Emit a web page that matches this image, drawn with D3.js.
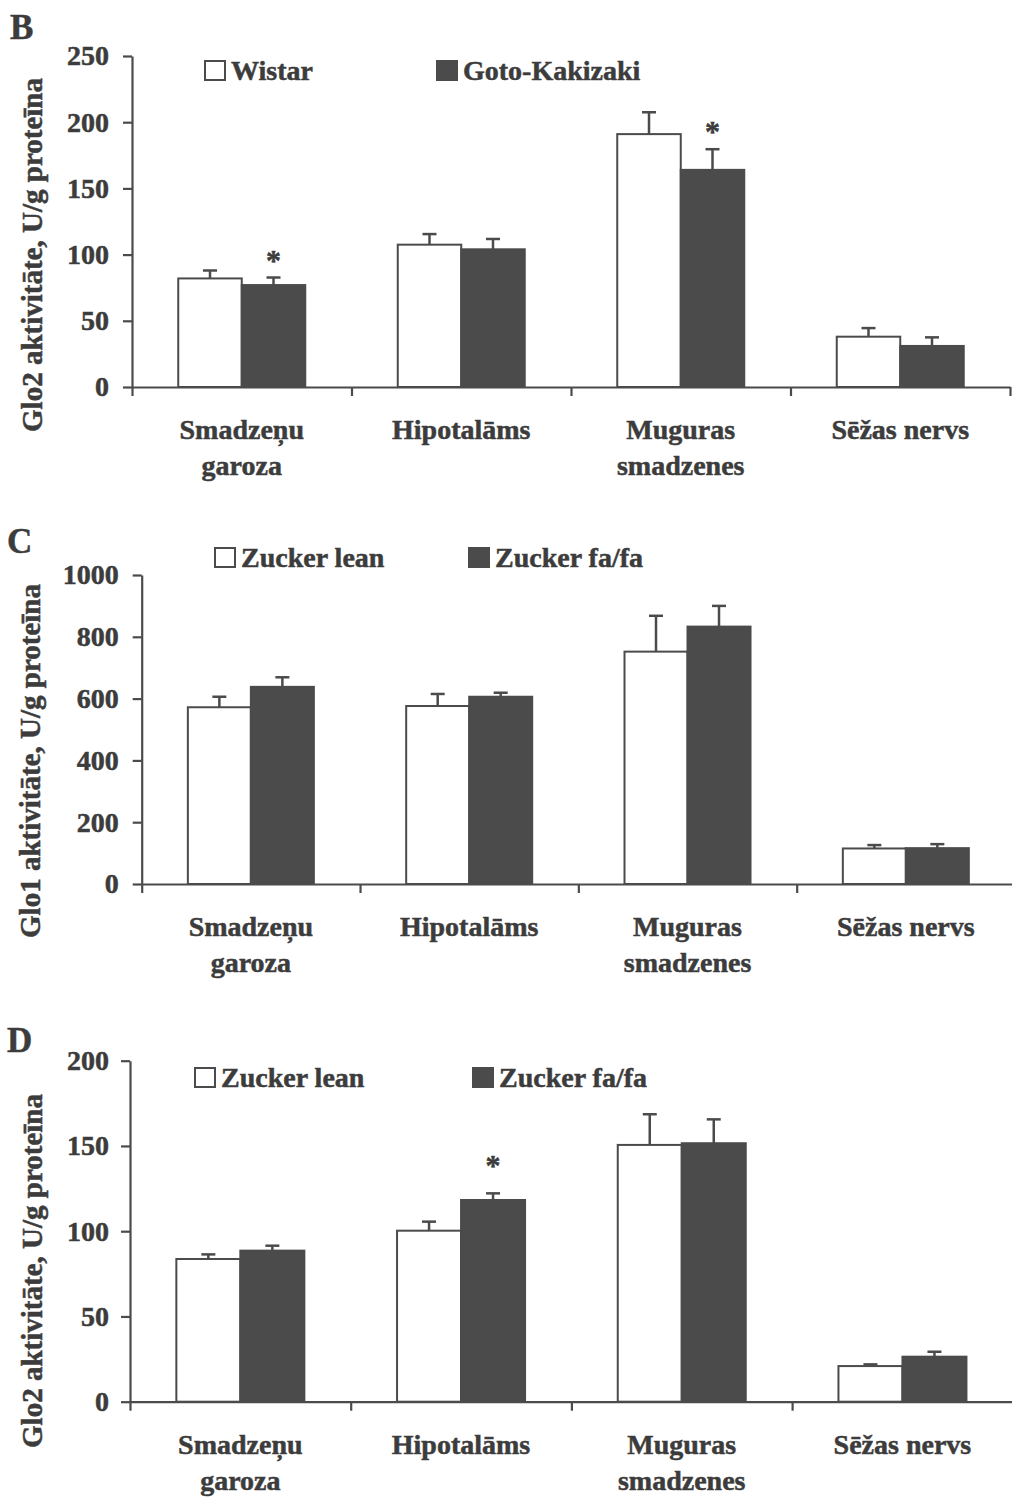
<!DOCTYPE html>
<html>
<head>
<meta charset="utf-8">
<script src="https://cdn.jsdelivr.net/npm/d3@7"></script>
<style>
body { margin: 0; background: #fff; }
svg text { font-family: "Liberation Serif", "Times New Roman", serif; font-weight: bold; fill: #3c3c3c; stroke: #3c3c3c; stroke-width: 0.5px; }
</style>
</head>
<body>
<svg id="drawing_region"></svg>
<script>
// categories (two-line labels)
const categories = [["Smadzeņu", "garoza"], ["Hipotalāms"], ["Muguras", "smadzenes"], ["Sēžas nervs"]];

// panel B - Glo2, Wistar vs Goto-Kakizaki
const wistar = [82, 107.5, 191, 38];
const wistarSem = [6, 8, 16.5, 6.5];
const gotoKakizaki = [77, 104, 164, 31];
const gotoKakizakiSem = [5.7, 7.8, 15.6, 6.5];
const gotoKakizakiStar = [true, false, true, false];
const ticksB = [0, 50, 100, 150, 200, 250];

// panel C - Glo1, Zucker lean vs fa/fa
const leanGlo1 = [572, 576, 752, 115];
const leanGlo1Sem = [34, 39, 116, 11];
const fafaGlo1 = [638, 606, 833, 116];
const fafaGlo1Sem = [31, 13, 67, 13];
const fafaGlo1Star = [false, false, false, false];
const ticksC = [0, 200, 400, 600, 800, 1000];

// panel D - Glo2, Zucker lean vs fa/fa
const leanGlo2 = [83.7, 100.3, 150.6, 20.9];
const leanGlo2Sem = [2.7, 5.3, 18, 1.0];
const fafaGlo2 = [88.6, 118.3, 151.6, 26.4];
const fafaGlo2Sem = [2.9, 3.9, 14, 2.9];
const fafaGlo2Star = [false, true, false, false];
const ticksD = [0, 50, 100, 150, 200];

const ink = '#4b4b4b';

const svg = d3.select('#drawing_region')
    .attr('width', 1012)
    .attr('height', 1501);

function drawPanel(cfg) {
    const g = svg.append('g');

    const xband = d3.scaleBand()
        .domain(d3.range(categories.length))
        .range([cfg.left, cfg.right]);
    const xedge = d3.scaleLinear()
        .domain([0, categories.length])
        .range([cfg.left, cfg.right]);
    const sub = d3.scaleBand()
        .domain([0, 1])
        .range([-cfg.barW, cfg.barW]);
    const yscale = d3.scaleLinear()
        .domain([0, cfg.max])
        .range([cfg.bottom, cfg.top]);

    const rows = [];
    cfg.series.forEach((s, j) => {
        s.values.forEach((v, i) => {
            rows.push({ i: i, j: j, v: v, sem: s.sem[i], star: s.star ? s.star[i] : false, fill: s.fill });
        });
    });
    const cx = d => xband(d.i) + xband.bandwidth() / 2 + sub(d.j) + sub.bandwidth() / 2;

    // bars
    g.selectAll('rect.bar')
        .data(rows)
        .enter()
        .append('rect')
        .attr('class', 'bar')
        .attr('x', d => xband(d.i) + xband.bandwidth() / 2 + sub(d.j))
        .attr('y', d => yscale(d.v))
        .attr('width', sub.bandwidth())
        .attr('height', d => yscale(0) - yscale(d.v))
        .attr('fill', d => d.fill)
        .attr('stroke', ink)
        .attr('stroke-width', 2);

    // error bars (upper only)
    const err = g.selectAll('g.err')
        .data(rows)
        .enter()
        .append('g')
        .attr('class', 'err')
        .attr('stroke', ink)
        .attr('stroke-width', 2.5);
    err.append('line')
        .attr('x1', cx).attr('x2', cx)
        .attr('y1', d => yscale(d.v))
        .attr('y2', d => yscale(d.v + d.sem));
    err.append('line')
        .attr('x1', d => cx(d) - 7).attr('x2', d => cx(d) + 7)
        .attr('y1', d => yscale(d.v + d.sem))
        .attr('y2', d => yscale(d.v + d.sem));

    // significance stars
    g.selectAll('text.star')
        .data(rows.filter(d => d.star))
        .enter()
        .append('text')
        .attr('class', 'star')
        .attr('x', cx)
        .attr('y', d => yscale(d.v + d.sem) - cfg.starGap)
        .attr('text-anchor', 'middle')
        .attr('font-size', 30)
        .text('*');

    // axes
    const xaxis = d3.axisBottom(xedge)
        .tickValues(d3.range(categories.length + 1))
        .tickSize(9)
        .tickSizeOuter(0)
        .tickFormat('');
    g.append('g')
        .attr('transform', `translate(0, ${cfg.bottom})`)
        .call(xaxis);

    const yaxis = d3.axisLeft(yscale)
        .tickValues(cfg.ticks)
        .tickSize(9)
        .tickSizeOuter(0)
        .tickPadding(cfg.tickPad)
        .tickFormat(d3.format('d'));
    g.append('g')
        .attr('transform', `translate(${cfg.left}, 0)`)
        .call(yaxis)
        .attr('font-size', 28)
        .attr('font-family', null);

    g.selectAll('.domain, .tick line')
        .attr('stroke', ink)
        .attr('stroke-width', 2.2);

    // category labels
    categories.forEach((lines, i) => {
        const t = g.append('text')
            .attr('text-anchor', 'middle')
            .attr('font-size', 28);
        lines.forEach((s, k) => {
            t.append('tspan')
                .attr('x', xband(i) + xband.bandwidth() / 2)
                .attr('y', cfg.bottom + 52 + k * 36)
                .text(s);
        });
    });

    // y title
    g.append('text')
        .attr('transform', `translate(${cfg.titleX}, ${cfg.titleY}) rotate(-90)`)
        .attr('text-anchor', 'middle')
        .attr('font-size', 29)
        .text(cfg.title);

    // panel letter
    g.append('text')
        .attr('x', cfg.letterX)
        .attr('y', cfg.letterY)
        .attr('font-size', 35)
        .text(cfg.letter);

    // legend
    cfg.series.forEach((s, j) => {
        g.append('rect')
            .attr('x', cfg.legendX[j])
            .attr('y', cfg.legendY - 19)
            .attr('width', 20)
            .attr('height', 19)
            .attr('fill', s.fill)
            .attr('stroke', ink)
            .attr('stroke-width', 2);
        g.append('text')
            .attr('x', cfg.legendX[j] + 26)
            .attr('y', cfg.legendY)
            .attr('font-size', 28)
            .text(s.name);
    });
}

drawPanel({
    letter: 'B', letterX: 10, letterY: 39,
    left: 132, right: 1010, bottom: 387, top: 56, max: 250, ticks: ticksB, tickPad: 14,
    barW: 63.5, starGap: 8,
    title: 'Glo2 aktivitāte, U/g proteīna', titleX: 42, titleY: 255,
    legendX: [205, 437], legendY: 80,
    series: [
        { name: 'Wistar', values: wistar, sem: wistarSem, fill: '#ffffff' },
        { name: 'Goto-Kakizaki', values: gotoKakizaki, sem: gotoKakizakiSem, star: gotoKakizakiStar, fill: ink }
    ]
});

drawPanel({
    letter: 'C', letterX: 7, letterY: 553,
    left: 141.7, right: 1015, bottom: 884, top: 575, max: 1000, ticks: ticksC, tickPad: 14,
    barW: 63, starGap: 8,
    title: 'Glo1 aktivitāte, U/g proteīna', titleX: 40, titleY: 761,
    legendX: [215, 469], legendY: 567,
    series: [
        { name: 'Zucker lean', values: leanGlo1, sem: leanGlo1Sem, fill: '#ffffff' },
        { name: 'Zucker fa/fa', values: fafaGlo1, sem: fafaGlo1Sem, star: fafaGlo1Star, fill: ink }
    ]
});

drawPanel({
    letter: 'D', letterX: 7, letterY: 1052,
    left: 130, right: 1012.8, bottom: 1401.7, top: 1060.7, max: 200, ticks: ticksD, tickPad: 12,
    barW: 64, starGap: 18,
    title: 'Glo2 aktivitāte, U/g proteīna', titleX: 42, titleY: 1271,
    legendX: [195, 473], legendY: 1087,
    series: [
        { name: 'Zucker lean', values: leanGlo2, sem: leanGlo2Sem, fill: '#ffffff' },
        { name: 'Zucker fa/fa', values: fafaGlo2, sem: fafaGlo2Sem, star: fafaGlo2Star, fill: ink }
    ]
});
</script>
</body>
</html>
